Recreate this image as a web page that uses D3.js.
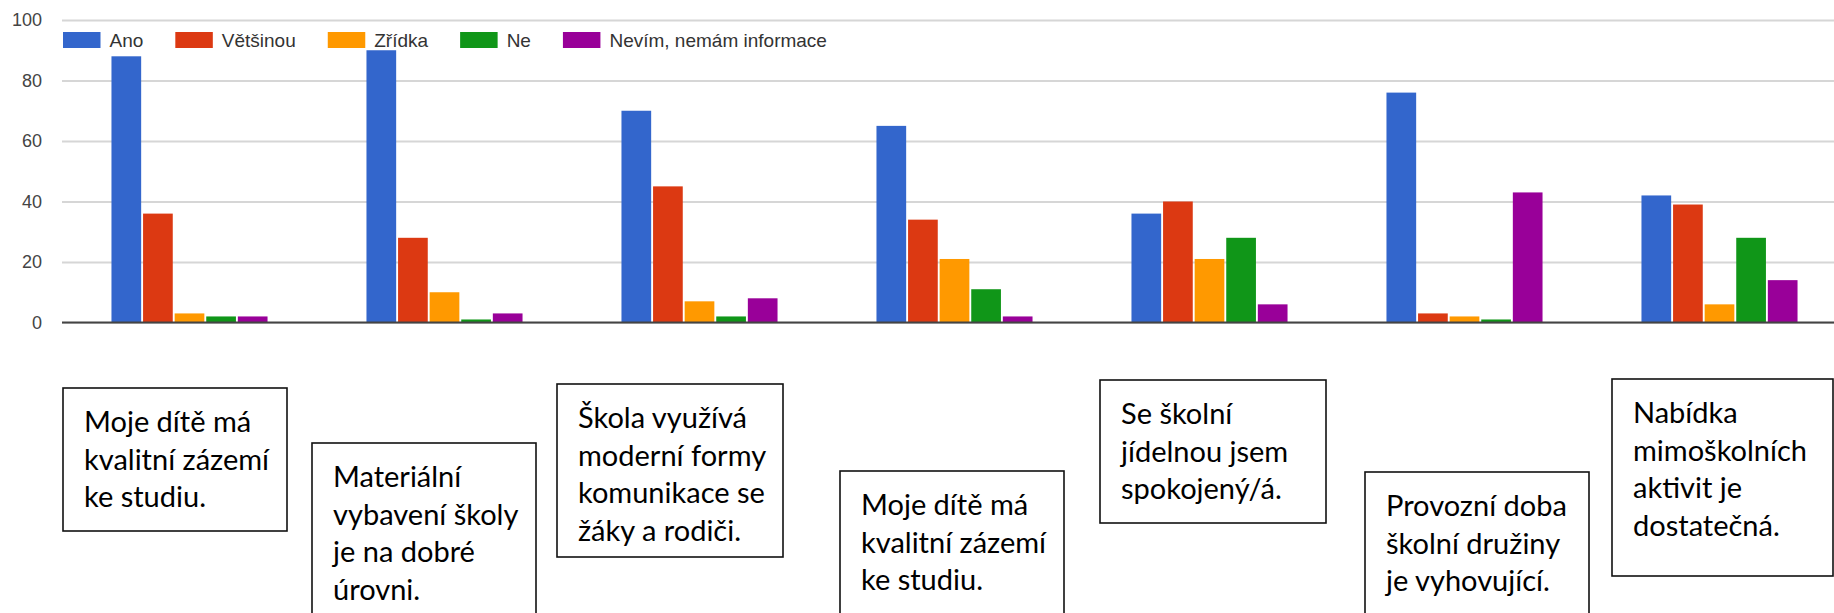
<!DOCTYPE html>
<html>
<head>
<meta charset="utf-8">
<script src="https://cdn.jsdelivr.net/npm/d3@7"></script>
<style>
body{margin:0;background:#fff;}
svg{display:block;}
</style>
</head>
<body>
<div id="my_dataviz"></div>
<script>
// question texts (shown in the boxes under the chart, one entry per group)
const questions = [
  ["Moje dítě má", "kvalitní zázemí", "ke studiu."],
  ["Materiální", "vybavení školy", "je na dobré", "úrovni."],
  ["Škola využívá", "moderní formy", "komunikace se", "žáky a rodiči."],
  ["Moje dítě má", "kvalitní zázemí", "ke studiu."],
  ["Se školní", "jídelnou jsem", "spokojený/á."],
  ["Provozní doba", "školní družiny", "je vyhovující."],
  ["Nabídka", "mimoškolních", "aktivit je", "dostatečná."]
];
const seriesNames = ["Ano", "Většinou", "Zřídka", "Ne", "Nevím, nemám informace"];
const ano      = [88, 90, 70, 65, 36, 76, 42];
const vetsinou = [36, 28, 45, 34, 40, 3, 39];
const zridka   = [3, 10, 7, 21, 21, 2, 6];
const ne       = [2, 1, 2, 11, 28, 1, 28];
const nevim    = [2, 3, 8, 2, 6, 43, 14];
const yTicks = [0, 20, 40, 60, 80, 100];

const colors = ["#3366cc", "#dc3912", "#ff9900", "#109618", "#990099"];
// box placement under the chart: left, top, width, height
const boxPos = [
  [63, 388, 224, 143], [312, 443, 224, 200], [557, 384, 226, 173],
  [840, 471, 224, 200], [1100, 380, 226, 143], [1365, 472, 224, 200],
  [1612, 379, 221, 197]
];

const W = 1834, H = 613;
const margin = {top: 20, left: 62, right: 0};
const plotW = 1785; // chart runs a bit past the right edge (cropped)

const values = [ano, vetsinou, zridka, ne, nevim];
const table = questions.map((q, i) => ({i: i, vals: values.map(s => s[i])}));

let svg = d3.select("#my_dataviz")
  .append("svg")
  .attr("width", W)
  .attr("height", H);

let y = d3.scaleLinear()
  .domain([0, 100])
  .range([322.5, 20]);

let x0 = d3.scaleBand()
  .domain(d3.range(questions.length))
  .range([margin.left, margin.left + plotW])
  .paddingInner(0.388)
  .paddingOuter(0.194);

let x1 = d3.scaleBand()
  .domain(d3.range(seriesNames.length))
  .range([0, x0.bandwidth()])
  .paddingInner(0.06);

// grid + y labels
let yAxis = svg.append("g")
  .attr("transform", "translate(" + margin.left + ",0)")
  .call(d3.axisLeft(y).tickValues(yTicks).tickSize(-(W - margin.left)).tickPadding(20));
yAxis.select(".domain").remove();
yAxis.selectAll(".tick line").attr("stroke", "#d6d6d6").attr("stroke-width", 2);
yAxis.selectAll(".tick text")
  .style("font", "18px 'Liberation Sans', Arial, sans-serif")
  .attr("fill", "#444");

// bars
let groups = svg.append("g").selectAll("g")
  .data(table)
  .join("g")
  .attr("transform", d => "translate(" + x0(d.i) + ",0)");

groups.selectAll("rect")
  .data(d => d.vals.map((v, k) => ({k: k, v: v})))
  .join("rect")
  .attr("x", d => x1(d.k))
  .attr("y", d => y(d.v))
  .attr("width", x1.bandwidth())
  .attr("height", d => y(0) - y(d.v))
  .attr("fill", d => colors[d.k]);

// baseline
svg.append("line")
  .attr("x1", margin.left).attr("x2", W)
  .attr("y1", y(0)).attr("y2", y(0))
  .attr("stroke", "#444").attr("stroke-width", 2);

// legend
let legend = svg.append("g").attr("transform", "translate(63,32)");
let lx = 0;
seriesNames.forEach((name, k) => {
  let item = legend.append("g").attr("transform", "translate(" + lx + ",0)");
  item.append("rect").attr("width", 37.5).attr("height", 16).attr("fill", colors[k]);
  let t = item.append("text")
    .attr("x", 46.5).attr("y", 14.5)
    .style("font", "19px 'Liberation Sans', Arial, sans-serif")
    .attr("fill", "#333")
    .text(name);
  lx += 46.5 + t.node().getComputedTextLength() + 32;
});

// question boxes
let boxes = svg.append("g").selectAll("g")
  .data(questions)
  .join("g")
  .attr("transform", (d, i) => "translate(" + boxPos[i][0] + "," + boxPos[i][1] + ")");

boxes.append("rect")
  .attr("width", (d, i) => boxPos[i][2])
  .attr("height", (d, i) => boxPos[i][3])
  .attr("fill", "#fff")
  .attr("stroke", "#111")
  .attr("stroke-width", 1.6);

boxes.selectAll("text")
  .data(d => d)
  .join("text")
  .attr("x", 21)
  .attr("y", (d, j) => 44 + j * 37.5)
  .style("font", "29px Lato, 'Open Sans', sans-serif")
  .attr("fill", "#000")
  .text(d => d);
</script>
</body>
</html>
